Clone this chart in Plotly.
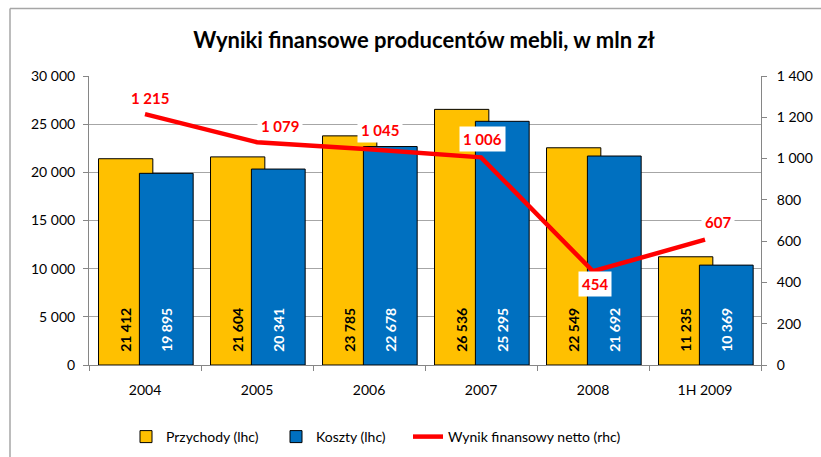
import plotly.graph_objects as go

categories = ["2004", "2005", "2006", "2007", "2008", "1H 2009"]
przychody = [21412, 21604, 23785, 26536, 22549, 11235]
koszty = [19895, 20341, 22678, 25295, 21692, 10369]
wynik = [1215, 1079, 1045, 1006, 454, 607]
wynik_labels = ["1 215", "1 079", "1 045", "1 006", "454", "607"]

# label offsets (pixels) for the net result labels
label_dx = [5, 23, 11, 1, 2, 13]
label_dy = [16, 16, 19, 18, -13, 18]

FONT = "Lato"
GRID = "#a6a6a6"
AXIS = "#868686"
L, T, W, H = 89, 76, 672, 289


def px_x(p):
    return (p - L) / W


fig = go.Figure()
fig.add_trace(go.Bar(
    x=categories, y=przychody, name="Przychody (lhc)", legend="legend",
    showlegend=True,
    marker=dict(color="#FFC000", line=dict(color="#000000", width=1)),
    offset=-0.415, width=0.485,
    texttemplate="\u00a0\u00a0\u00a0%{y:,d}", textposition="inside", textangle=-90,
    insidetextanchor="start",
    textfont=dict(family=FONT, size=14, color="#000000", weight="bold"),
))
fig.add_trace(go.Bar(
    x=categories, y=koszty, name="Koszty (lhc)", legend="legend2",
    showlegend=True,
    marker=dict(color="#0070C0", line=dict(color="#000000", width=1)),
    offset=-0.05, width=0.48,
    texttemplate="\u00a0\u00a0\u00a0%{y:,d}", textposition="inside", textangle=-90,
    insidetextanchor="start",
    textfont=dict(family=FONT, size=14, color="#ffffff", weight="bold"),
))
fig.add_trace(go.Scatter(
    x=categories, y=wynik, name="Wynik finansowy netto (rhc)", yaxis="y2",
    legend="legend3", showlegend=True, mode="lines",
    line=dict(color="#FF0000", width=4.5),
))

annotations = []
for i, (v, t, dx, dy) in enumerate(zip(wynik, wynik_labels, label_dx, label_dy)):
    annotations.append(dict(
        x=i, y=v, xref="x", yref="y2", text="<b>%s</b>" % t, showarrow=False,
        xshift=dx, yshift=dy, bgcolor="#ffffff", borderpad=3,
        font=dict(family=FONT, size=15, color="#FF0000"),
    ))

leg_common = dict(orientation="h", xanchor="left", yref="container",
                  y=1 - 437 / 457, yanchor="middle", font=dict(size=14),
                  bgcolor="rgba(0,0,0,0)", visible=True)

fig.update_layout(
    width=821, height=457, showlegend=True,
    margin=dict(l=L, r=821 - L - W, t=T, b=457 - T - H, autoexpand=False),
    paper_bgcolor="#ffffff", plot_bgcolor="#ffffff",
    barmode="overlay", separators=", ",
    font=dict(family=FONT, size=14, color="#000000"),
    title=dict(text="<b>Wyniki finansowe producentów mebli, w mln zł</b>",
               x=px_x(424), xref="paper", xanchor="center", y=1 - 40 / 457,
               yref="container", yanchor="middle",
               font=dict(family=FONT, size=22, color="#000000")),
    xaxis=dict(type="category", categoryorder="array", categoryarray=categories,
               range=[-0.5, len(categories) - 0.5], autorange=False,
               showline=True, linecolor=AXIS, linewidth=1,
               ticks="outside", tickson="boundaries", ticklen=5, tickcolor=AXIS,
               showgrid=False, tickangle=0, ticklabelstandoff=12,
               tickfont=dict(size=14)),
    yaxis=dict(range=[0, 30000], dtick=5000, tickformat=",d", showline=True,
               linecolor=AXIS, linewidth=1, ticks="outside", ticklen=5,
               tickcolor=AXIS, gridcolor=GRID, gridwidth=1, zeroline=False,
               ticklabelstandoff=5, tickfont=dict(size=14)),
    yaxis2=dict(range=[0, 1400], dtick=200, tickformat=",d", overlaying="y",
                side="right", showline=True, linecolor=AXIS, linewidth=1,
                ticks="outside", ticklen=5, tickcolor=AXIS, showgrid=False,
                zeroline=False, ticklabelstandoff=7, tickfont=dict(size=14)),
    legend=dict(x=px_x(126), **leg_common),
    legend2=dict(x=px_x(276), **leg_common),
    legend3=dict(x=px_x(408), **leg_common),
    annotations=annotations,
    shapes=[
        dict(type="line", xref="paper", yref="paper", x0=px_x(10), x1=px_x(10),
             y0=(T + H - 8.5) / H, y1=-0.4, line=dict(color="#a6a6a6", width=1.5)),
        dict(type="line", xref="paper", yref="paper", x0=px_x(10), x1=1.2,
             y0=(T + H - 8.5) / H, y1=(T + H - 8.5) / H,
             line=dict(color="#a6a6a6", width=1.5)),
    ],
)

fig.write_html("out.html", config={"displayModeBar": False},
               post_script="document.body.style.margin='0';")
